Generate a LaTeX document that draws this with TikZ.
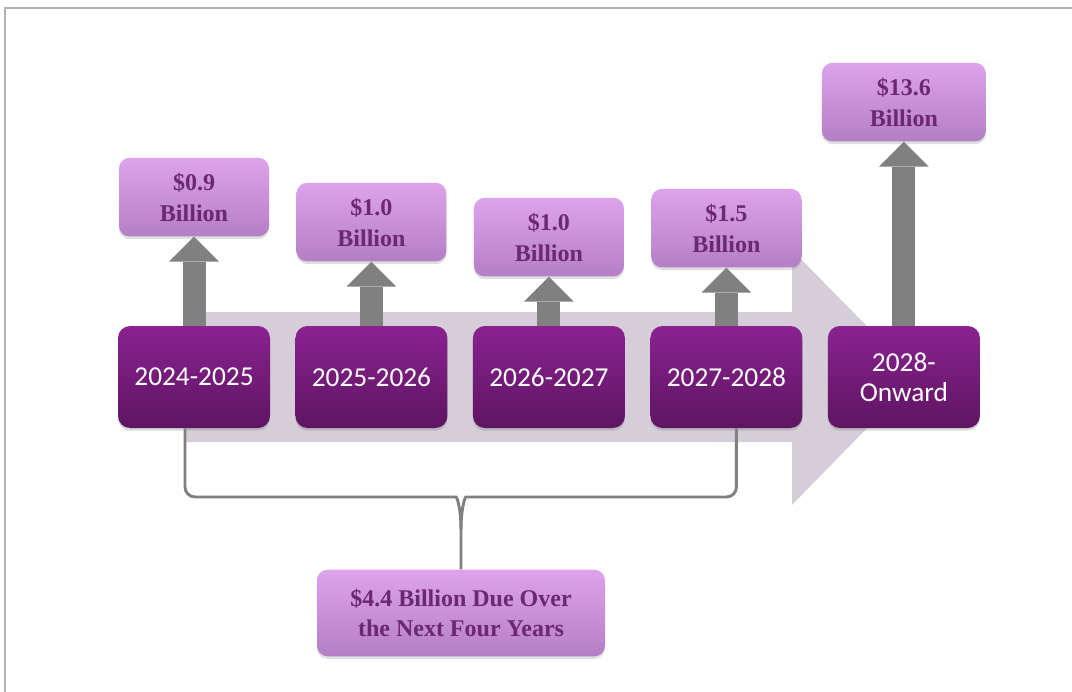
\documentclass[tikz,border=0pt]{standalone}
\usepackage{fontspec}
\setmainfont{Liberation Serif}
\newfontfamily\yearfont{Carlito}
\usetikzlibrary{arrows.meta,shadows,positioning,calc}
\definecolor{yeartop}{HTML}{8A2290}
\definecolor{yearbot}{HTML}{5E1562}
\definecolor{amttop}{HTML}{DDA3EC}
\definecolor{amtbot}{HTML}{B47EC5}
\definecolor{amttext}{HTML}{6C2870}
\definecolor{flow}{HTML}{D5CED8}
\definecolor{stem}{HTML}{808080}

\begin{document}
\begin{tikzpicture} [x=0.75pt,y=-0.75pt]
    \tikzset {
      node distance=133.1pt,
      year/.style={rectangle,rounded corners=9pt,minimum width=114pt,minimum height=76.5pt,inner sep=0pt,align=center,
        top color=yeartop,bottom color=yearbot,text=white,font=\yearfont\fontsize{20.5}{22.5}\selectfont,
        drop shadow={shadow xshift=0pt,shadow yshift=-2pt,opacity=0.3}},
      amount/.style={rectangle,rounded corners=8pt,minimum width=112.5pt,minimum height=59pt,inner sep=0pt,align=center,
        top color=amttop,bottom color=amtbot,text=amttext,font=\bfseries\fontsize{18}{23}\selectfont,
        drop shadow={shadow xshift=0pt,shadow yshift=-2pt,opacity=0.25}},
      rise/.style={draw=stem,line width=17.25pt,-{Triangle[width=37.5pt,length=18.75pt,line width=0pt]}},
      brace/.style={draw=stem,line width=2.2pt}
    }
    \useasboundingbox (0,0) rectangle (1072,692);
    \draw [gray!60,line width=1.2pt] (5,692) -- (5,8) -- (1072,8);
    % the wide arrow behind the years
    \fill [flow] (185,312) -- (792,312) -- (792,250) -- (917,377) -- (792,505) -- (792,442) -- (185,442) -- cycle;

    \node [year] (y1) at (194,377) {2024-2025};
    \node [year, right of=y1] (y2) {2025-2026};
    \node [year, right of=y2] (y3) {2026-2027};
    \node [year, right of=y3] (y4) {2027-2028};
    \node [year, right of=y4] (y5) {2028-\\Onward};

    \node [amount, above=66.75pt of y1] (a1) {\$0.9\\Billion};
    \node [amount, above=48pt of y2] (a2) {\$1.0\\Billion};
    \node [amount, above=36.75pt of y3] (a3) {\$1.0\\Billion};
    \node [amount, above=43.5pt of y4] (a4) {\$1.5\\Billion};
    \node [amount, above=138pt of y5, minimum width=123pt] (a5) {\$13.6\\Billion};

    \draw [rise] (y1) to (a1);
    \draw [rise] (y2) to (a2);
    \draw [rise] (y3) to (a3);
    \draw [rise] (y4) to (a4);
    \draw [rise] (y5) to (a5);

    \node [amount, minimum width=216pt, minimum height=65pt, font=\bfseries\fontsize{18}{22.5}\selectfont] (sum) at (461,613) {\$4.4 Billion Due Over\\the Next Four Years};

    \coordinate (bk) at (461,530);
    \coordinate (bkl) at (446,497);
    \coordinate (bkr) at (476,497);
    \draw [brace] ([xshift=-6.75pt]y1.south) [rounded corners=7.5pt] |- (bkl) [sharp corners] .. controls +(11,0) and +(0,-22) .. (bk) -- (sum.north);
    \draw [brace] ([xshift=7.5pt]y4.south) [rounded corners=7.5pt] |- (bkr) [sharp corners] .. controls +(-11,0) and +(0,-22) .. (bk);
  \end{tikzpicture}
\end{document}
